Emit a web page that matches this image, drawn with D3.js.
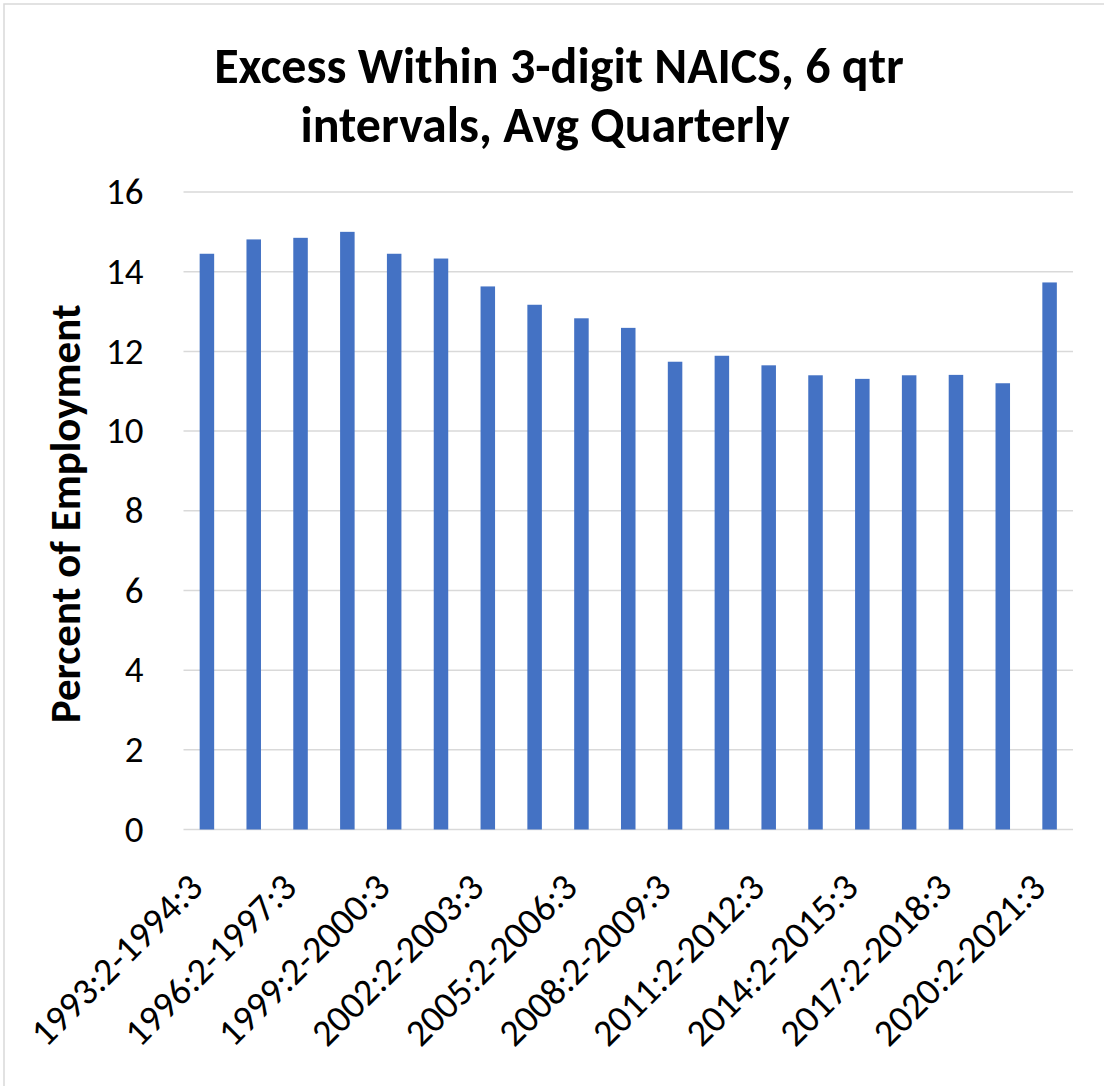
<!DOCTYPE html>
<html>
<head>
<meta charset="utf-8">
<script src="https://cdn.jsdelivr.net/npm/d3@7"></script>
<style>
  html, body { margin: 0; padding: 0; background: #fff; }
  svg { display: block; }
  text { font-family: Carlito, Calibri, Lato, "Open Sans", sans-serif; fill: #000; }
</style>
</head>
<body>
<svg id="chart" width="1104" height="1086"></svg>
<script>
// Six-quarter intervals, 1993:2 through 2021:3
const periods = [
  "1993:2-1994:3", "1994:4-1996:1", "1996:2-1997:3", "1997:4-1999:1",
  "1999:2-2000:3", "2000:4-2002:1", "2002:2-2003:3", "2003:4-2005:1",
  "2005:2-2006:3", "2006:4-2008:1", "2008:2-2009:3", "2009:4-2011:1",
  "2011:2-2012:3", "2012:4-2014:1", "2014:2-2015:3", "2015:4-2017:1",
  "2017:2-2018:3", "2018:4-2020:1", "2020:2-2021:3"
];

// Excess reallocation within 3-digit NAICS, percent of employment
const excessPct = [
  14.45, 14.81, 14.85, 15.00, 14.45, 14.33, 13.63, 13.17, 12.83, 12.59,
  11.74, 11.89, 11.65, 11.40, 11.31, 11.40, 11.41, 11.20, 13.73
];

// Labels shown on the category axis (every other interval)
const shownPeriods = periods.filter((d, i) => i % 2 === 0);

const yTicks = [0, 2, 4, 6, 8, 10, 12, 14, 16];

const titleLines = ["Excess Within 3-digit NAICS, 6 qtr", "intervals, Avg Quarterly"];
const yTitle = "Percent of Employment";

const svg = d3.select("#chart");
const W = 1104, H = 1086;
const plot = { left: 183.5, right: 1073, top: 192, bottom: 829.5 };

svg.append("rect").attr("width", W).attr("height", H).attr("fill", "#fff");
// chart area outline
svg.append("rect")
  .attr("x", 4).attr("y", 4).attr("width", W + 10).attr("height", H + 10)
  .attr("fill", "none").attr("stroke", "#d9d9d9").attr("stroke-width", 1.5);

const x = d3.scaleBand()
  .domain(periods)
  .range([plot.left, plot.right])
  .paddingInner(0.69)
  .paddingOuter(0.345);

const y = d3.scaleLinear().domain([0, 16]).range([plot.bottom, plot.top]);

// gridlines
svg.append("g")
  .selectAll("line")
  .data(yTicks)
  .join("line")
  .attr("x1", plot.left).attr("x2", plot.right)
  .attr("y1", d => y(d)).attr("y2", d => y(d))
  .attr("stroke", "#d9d9d9").attr("stroke-width", 1.5);

// value axis
const yAxis = svg.append("g")
  .attr("transform", `translate(${plot.left},0)`)
  .call(d3.axisLeft(y).tickValues(yTicks).tickSize(0).tickPadding(40).tickFormat(d3.format("d")));
yAxis.select(".domain").remove();
yAxis.selectAll("text")
  .style("font-size", "37px")
  .style("font-family", "Carlito, Calibri, Lato, sans-serif")
  .attr("fill", "#000");

// bars
svg.append("g")
  .selectAll("rect")
  .data(periods.map((p, i) => ({ p, v: excessPct[i] })))
  .join("rect")
  .attr("x", d => x(d.p))
  .attr("width", x.bandwidth())
  .attr("y", d => y(d.v))
  .attr("height", d => y(0) - y(d.v))
  .attr("fill", "#4472c4");

// category axis labels
const xAxis = svg.append("g")
  .attr("transform", `translate(0,${plot.bottom})`)
  .call(d3.axisBottom(x).tickValues(shownPeriods).tickSize(0).tickPadding(0));
xAxis.select(".domain").remove();
xAxis.selectAll("text")
  .attr("text-anchor", "end")
  .attr("dy", null)
  .attr("y", 0)
  .attr("transform", "translate(-2,60) rotate(-45)")
  .style("font-size", "38px")
  .style("font-family", "Carlito, Calibri, Lato, sans-serif")
  .attr("fill", "#000");

// title
const titleX = [559, 545];
svg.append("g")
  .selectAll("text")
  .data(titleLines)
  .join("text")
  .attr("x", (d, i) => titleX[i])
  .attr("y", (d, i) => 83 + i * 59)
  .attr("text-anchor", "middle")
  .style("font-size", "50px")
  .style("font-weight", "bold")
  .text(d => d);

// axis title
svg.append("text")
  .attr("transform", `translate(80,${(plot.top + plot.bottom) / 2 + 3}) rotate(-90)`)
  .attr("text-anchor", "middle")
  .style("font-size", "43px")
  .style("font-weight", "bold")
  .text(yTitle);
</script>
</body>
</html>
